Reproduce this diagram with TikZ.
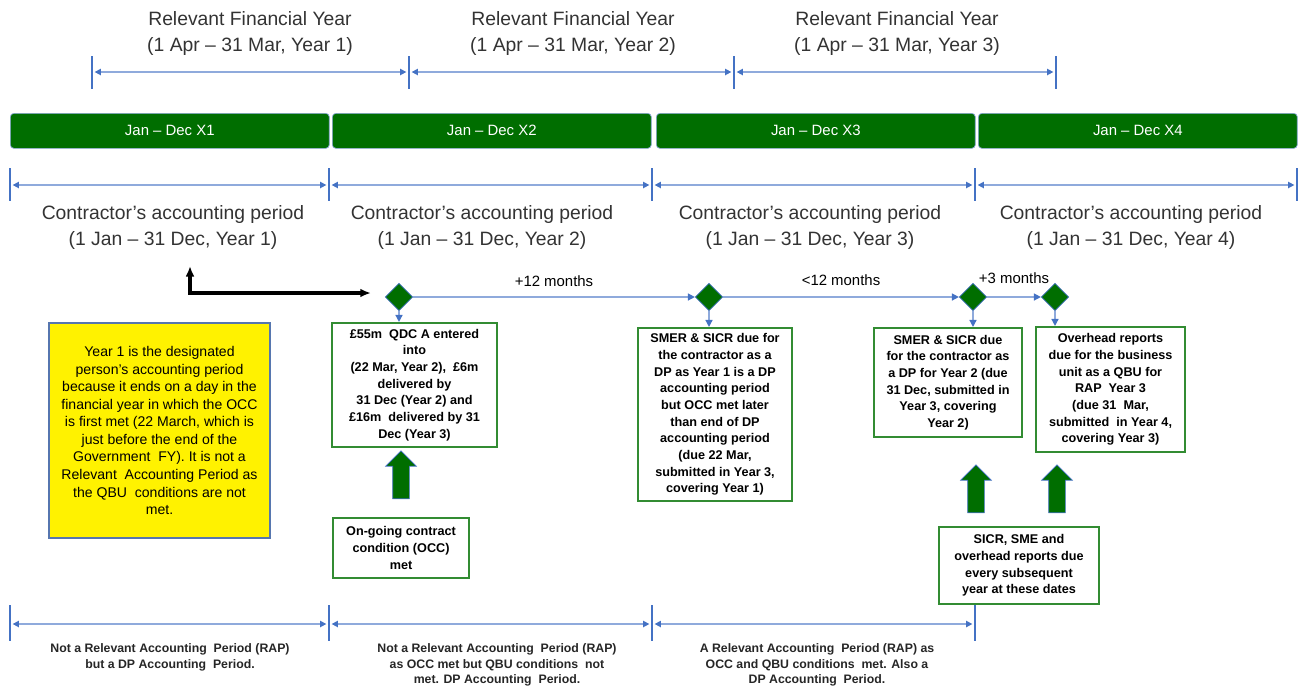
\documentclass[tikz,border=0pt]{standalone}
\usepackage{fontspec}
\setmainfont{Liberation Sans}
\usetikzlibrary{arrows.meta,shapes.geometric,shapes.arrows}

\definecolor{bargreen}{RGB}{0,110,0}
\definecolor{boxgreen}{RGB}{50,140,50}
\definecolor{linkblue}{RGB}{68,114,196}
\definecolor{paleblue}{RGB}{143,170,220}

\tikzset{
	periodlabel/.style={align=center,font=\fontsize{11}{14.8}\selectfont,text=black!80},
	dimtick/.style={draw=linkblue,line width=1pt},
	span/.style={draw=paleblue,line width=0.8pt,{Triangle[length=3.5pt,width=3.5pt,color=linkblue]}-{Triangle[length=3.5pt,width=3.5pt,color=linkblue]},shorten <=1.5pt,shorten >=1.5pt},
	yearbar/.style={draw=paleblue,fill=bargreen,rounded corners=2pt,text=white,minimum width=6.38cm,minimum height=0.7cm,font=\fontsize{8.5}{10}\selectfont,anchor=north west},
	milestone/.style={diamond,draw=linkblue,fill=bargreen,minimum size=0.55cm,inner sep=0pt},
	flow/.style={draw=paleblue,line width=0.8pt,-{Triangle[length=4pt,width=4pt,color=linkblue]}},
	infobox/.style={draw=boxgreen,line width=1.2pt,fill=white,align=center,font=\bfseries\fontsize{7.2}{9.5}\selectfont,inner sep=1pt},
	greenup/.style={single arrow,shape border rotate=90,draw=linkblue,fill=bargreen,minimum height=0.96cm,inner sep=0.16cm,single arrow head extend=0.14cm},
	raplabel/.style={align=center,font=\bfseries\fontsize{7}{9}\selectfont,text=black!85},
}

\begin{document}
\begin{tikzpicture}[x=0.02cm,y=-0.02cm]
	\useasboundingbox (0,0) rectangle (1301,691);

	% relevant financial years
	\foreach \i/\x in {1/250,2/573,3/897}
		\node[periodlabel] (fylab\i) at (\x,33) {Relevant Financial Year\\(1 Apr – 31 Mar, Year \i)};
	\foreach \i/\x in {1/92,2/409,3/734,4/1056}
		\coordinate (fy\i) at (\x,72);
	\foreach \i in {1,...,4}
		\draw[dimtick] ([yshift=0.32cm]fy\i) -- ([yshift=-0.34cm]fy\i);
	\foreach \a/\b in {1/2,2/3,3/4}
		\draw[span] (fy\a) -- (fy\b);

	% calendar years
	\foreach \i/\x in {1/10,2/332,3/656,4/978}
		\node[yearbar] (bar\i) at (\x,113) {Jan – Dec X\i};

	% contractor's accounting periods
	\foreach \i/\x in {1/10,2/329,3/652,4/975,5/1297}
		\coordinate (ca\i) at (\x,185);
	\foreach \i in {1,...,5}
		\draw[dimtick] ([yshift=0.34cm]ca\i) -- ([yshift=-0.32cm]ca\i);
	\foreach \a/\b in {1/2,2/3,3/4,4/5}
		\draw[span] (ca\a) -- (ca\b);
	\foreach \i/\x in {1/173,2/482,3/810,4/1131}
		\node[periodlabel] (calab\i) at (\x,227) {Contractor's accounting period\\(1 Jan – 31 Dec, Year \i)};

	% milestones
	\node[milestone] (msocc) at (399,297) {};
	\node[milestone] (msdp) at (709,297) {};
	\node[milestone] (mssmer) at (973,297) {};
	\node[milestone] (msovh) at (1055,297) {};
	\draw[flow] (msocc) -- node[above=2pt,font=\fontsize{8.5}{10}\selectfont] {+12 months} (msdp);
	\draw[flow] (msdp) -- node[above=3pt,font=\fontsize{8.5}{10}\selectfont] {<12 months} (mssmer);
	\draw[flow] (mssmer) -- node[above=4pt,font=\fontsize{8.5}{10}\selectfont] {+3 months} (msovh);

	\coordinate (yr1) at (190,266);
	\draw[line width=1.8pt,{Latex[length=6pt,width=5pt]}-{Latex[length=6pt,width=5pt]}] (yr1) |- ([xshift=-0.28cm,yshift=0.08cm]msocc.west);

	% notes
	\node[draw=linkblue!70!gray,fill=yellow,line width=0.8pt,align=center,font=\fontsize{8}{10}\selectfont,minimum width=4.42cm,minimum height=4.3cm] (dpnote) at (159.5,430.5)
		{Year 1 is the designated\\person's accounting period\\because it ends on a day in the\\financial year in which the OCC\\is first met (22 March, which is\\just before the end of the\\Government \ FY). It is not a\\Relevant \ Accounting Period as\\the QBU \ conditions are not\\met.};

	\node[infobox,minimum width=3.3cm,minimum height=2.48cm] (qdc) at (414.5,385)
		{£55m \ QDC A entered\\into\\(22 Mar, Year 2), \ £6m\\delivered by\\31 Dec (Year 2) and\\£16m \ delivered by 31\\Dec (Year 3)};
	\node[infobox,minimum width=2.72cm,minimum height=1.2cm] (occ) at (401,548)
		{On-going contract\\condition (OCC)\\met};
	\node[infobox,minimum width=3.08cm,minimum height=3.46cm] (smerone) at (715,414.5)
		{SMER \& SICR due for\\the contractor as a\\DP as Year 1 is a DP\\accounting period\\but OCC met later\\than end of DP\\accounting period\\(due 22 Mar,\\submitted in Year 3,\\covering Year 1)};
	\node[infobox,minimum width=2.96cm,minimum height=2.18cm] (smertwo) at (948,382.5)
		{SMER \& SICR due\\for the contractor as\\a DP for Year 2 (due\\31 Dec, submitted in\\Year 3, covering\\Year 2)};
	\node[infobox,minimum width=2.98cm,minimum height=2.5cm] (ovh) at (1110.5,389.5)
		{Overhead reports\\due for the business\\unit as a QBU for\\RAP \ Year 3\\(due 31 \ Mar,\\submitted \ in Year 4,\\covering Year 3)};
	\node[infobox,minimum width=3.2cm,minimum height=1.54cm] (sicr) at (1019,565.5)
		{SICR, SME and\\overhead reports due\\every subsequent\\year at these dates};

	\draw[flow] (msocc.south) -- (msocc.south |- qdc.north);
	\draw[flow] (msdp.south) -- (msdp.south |- smerone.north);
	\draw[flow] (mssmer.south) -- (mssmer.south |- smertwo.north);
	\draw[flow] (msovh.south) -- (msovh.south |- ovh.north);

	\node[greenup] (uparr1) at (401,479) {};
	\node[greenup] (uparr2) at (976,493) {};
	\node[greenup] (uparr3) at (1057,493) {};

	% relevant accounting periods
	\foreach \i/\x in {1/10,2/329,3/652,4/975}
		\coordinate (rap\i) at (\x,624);
	\foreach \i in {1,...,4}
		\draw[dimtick] ([yshift=0.38cm]rap\i) -- ([yshift=-0.34cm]rap\i);
	\foreach \a/\b in {1/2,2/3,3/4}
		\draw[span] (rap\a) -- (rap\b);
	\node[raplabel] (raplab1) at (170,657) {Not a Relevant Accounting \ Period (RAP)\\but a DP Accounting \ Period.};
	\node[raplabel] (raplab2) at (497,665) {Not a Relevant Accounting \ Period (RAP)\\as OCC met but QBU conditions \ not\\met. DP Accounting \ Period.};
	\node[raplabel] (raplab3) at (817,665) {A Relevant Accounting \ Period (RAP) as\\OCC and QBU conditions \ met. Also a\\DP Accounting \ Period.};
\end{tikzpicture}
\end{document}
